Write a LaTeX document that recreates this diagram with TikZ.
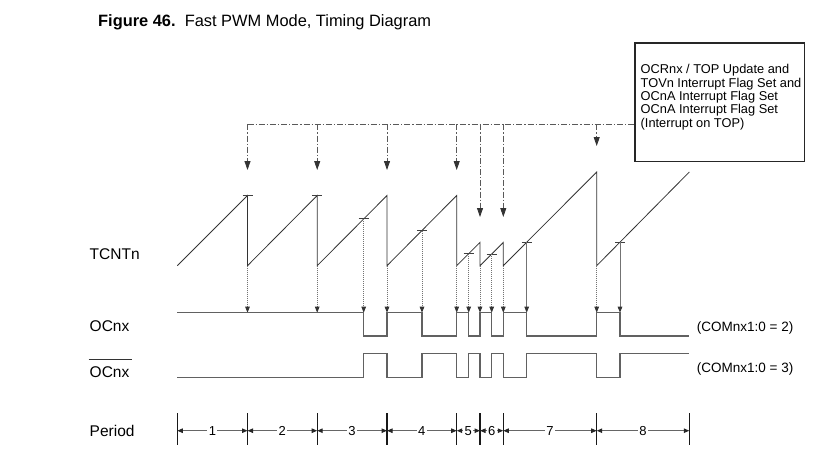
\documentclass[tikz,border=0pt]{standalone}
\usepackage{fontspec}
\setmainfont{Liberation Sans}
\usetikzlibrary{arrows.meta}
\newcommand\titlefont{\fontsize{16.4}{19}\selectfont}
\newcommand\lblfont{\fontsize{15.5}{18}\selectfont}
\newcommand\comfont{\fontsize{13.5}{16}\selectfont}
\newcommand\numfont{\fontsize{13}{15}\selectfont}
\newcommand\boxtxtfont{\fontsize{12.8}{13.3}\selectfont}
\begin{document}
\begin{tikzpicture}[x=1pt,y=-1pt,
  saw/.style={draw=black!80,line width=0.8pt},
  wave/.style={draw=black!62,line width=1.3pt},
  tickmark/.style={draw=black!75,line width=0.9pt},
  droparrow/.style={draw=black!55,line width=0.9pt,dash pattern=on 1.4pt off 0.6pt,
     -{Triangle[length=6pt,width=4.5pt,color=black!80]}},
  dashdot/.style={draw=black!65,line width=0.8pt,dash pattern=on 6pt off 2pt on 1.2pt off 2pt},
  dashdotarrow/.style={dashdot,-{Triangle[length=9pt,width=6pt,color=black!80]}},
  perbar/.style={draw=black!90,line width=1.2pt},
  perline/.style={draw=black!60,line width=1pt,{Triangle[length=5.5pt,width=4.5pt,color=black!85]}-{Triangle[length=5.5pt,width=4.5pt,color=black!85]}},
  lbl/.style={anchor=base west,inner sep=0pt}]
\useasboundingbox (0,0) rectangle (827,464);

% title
\node[lbl] (title) at (98,26) {\titlefont\textbf{Figure 46.}\ \ Fast PWM Mode, Timing Diagram};

% left labels
\node[lbl] (tcnt) at (89.5,259.7) {\lblfont TCNTn};
\node[lbl] (ocnx) at (89.5,331.7) {\lblfont OCnx};
\node[lbl] (ocnxb) at (89.5,377.3) {\lblfont OCnx};
\draw[line width=0.9pt,black!80] ([xshift=-1pt,yshift=6.5pt]ocnxb.north west) -- ([xshift=2.5pt,yshift=6.5pt]ocnxb.north east);
\node[lbl] (period) at (89.5,436) {\lblfont Period};

% right labels
\node[lbl] (com2) at (696.7,331) {\comfont (COMnx1:0 = 2)};
\node[lbl] (com3) at (696.7,372.7) {\comfont (COMnx1:0 = 3)};

% box
\node[draw=black!85,line width=1.2pt,minimum width=169.4pt,minimum height=118.4pt,inner sep=0pt,anchor=north west] (box) at (634.3,42.3) {};
\node[anchor=north west,inner sep=0pt,align=left,font=\boxtxtfont] (boxtext) at (640.5,64.4)
  {OCRnx / TOP Update and\\ TOVn Interrupt Flag Set and\\ OCnA Interrupt Flag Set\\ OCnA Interrupt Flag Set\\ (Interrupt on TOP)};

% sawtooth coordinates
\coordinate (b0) at (177.3,265.7);
\coordinate (p1) at (247.5,195.5);  \coordinate (b1) at (247.5,265.7);
\coordinate (p2) at (317.2,195.5);  \coordinate (b2) at (317.2,265.7);
\coordinate (p3) at (387,195.5);    \coordinate (b3) at (387,265.7);
\coordinate (p4) at (456.7,195.5);  \coordinate (b4) at (456.7,265.7);
\coordinate (p5) at (480,242.4);    \coordinate (b5) at (480,265.7);
\coordinate (p6) at (503.3,242.4);  \coordinate (b6) at (503.3,265.7);
\coordinate (p7) at (596.7,172);    \coordinate (b7) at (596.7,265.7);
\coordinate (e8) at (689.3,172);
\draw[saw] (b0) -- (p1) -- (b1) -- (p2) -- (b2) -- (p3) -- (b3) -- (p4) -- (b4)
  -- (p5) -- (b5) -- (p6) -- (b6) -- (p7) -- (b7) -- (e8);

% compare match ticks
\coordinate (t1) at (247.5,195.5);
\coordinate (t2) at (317.2,195.5);
\coordinate (t3) at (363.7,218.9);
\coordinate (t4) at (422,230.5);
\coordinate (t5) at (468.7,253.7);
\coordinate (t6) at (491.7,254);
\coordinate (t7) at (526.7,242.2);
\coordinate (t8) at (620,242.1);
\foreach \i in {1,...,8}{
  \draw[tickmark] ([xshift=-5pt]t\i) -- ([xshift=5pt]t\i);
}

% arrows down to OCnx
\def\yoc{312.7}
\foreach \i in {1,...,7}{
  \draw[droparrow] (b\i) -- (b\i |- 0,\yoc);
}
\foreach \i in {3,...,8}{
  \draw[droparrow] (t\i) -- (t\i |- 0,\yoc);
}

% OCnx waveform
\draw[wave] (177.3,312.7) -| (363.7,336) -| (387,312.7) -| (422,336) -| (456.7,312.7)
  -| (468.7,336) -| (480,312.7) -| (491.7,336) -| (503.3,312.7) -| (526.7,336)
  -| (596.7,312.7) -| (620,336) -- (689.3,336);
% inverted OCnx waveform
\draw[wave] (177.3,377.3) -| (363.7,353.3) -| (387,377.3) -| (422,353.3) -| (456.7,377.3)
  -| (468.7,353.3) -| (480,377.3) -| (491.7,353.3) -| (503.3,377.3) -| (526.7,353.3)
  -| (596.7,377.3) -| (620,353.3) -- (689.3,353.3);

% dash-dot interrupt lines
\coordinate (h1) at (247.5,124.3);
\draw[dashdot] (h1) -- (h1 -| box.west);
\foreach \i/\ty in {1/170,2/170,3/170,4/170,5/217,6/217,7/146}{
  \draw[dashdotarrow] (b\i |- h1) -- (b\i |- 0,\ty);
}

% period row
\foreach \x [count=\i from 0] in {177.3,247.5,317.2,387,456.7,480,503.3,596.7,689.3}{
  \coordinate (pt\i) at (\x,413.3);
  \coordinate (pb\i) at (\x,445);
  \coordinate (pm\i) at (\x,430.7);
  \draw[perbar] (pt\i) -- (pb\i);
}
\foreach \i [evaluate=\i as \j using int(\i-1)] in {1,...,8}{
  \draw[perline] (pm\j) -- (pm\i) node[midway,fill=white,inner sep=1.3pt] (pn\i) {\numfont\i};
}
\end{tikzpicture}
\end{document}
